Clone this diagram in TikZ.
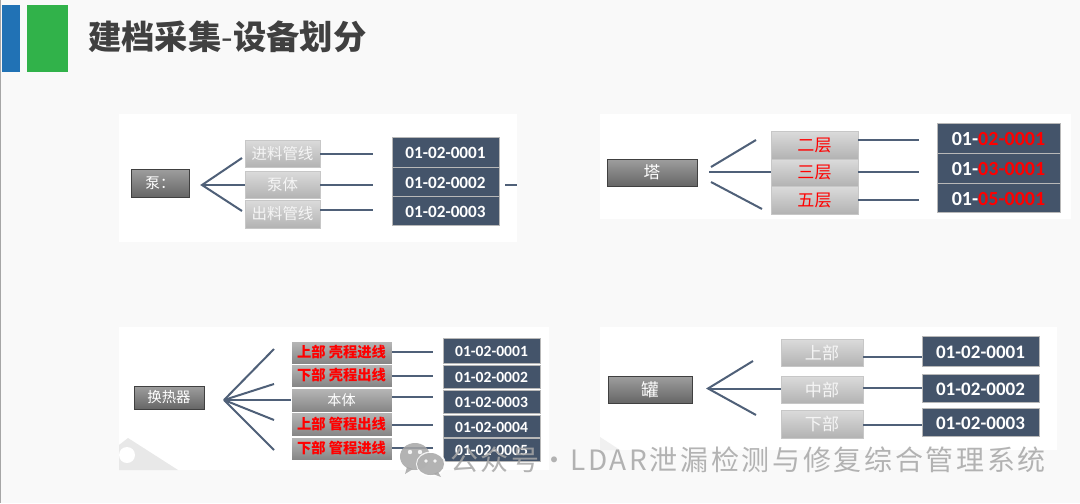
\documentclass[tikz,border=0pt]{standalone}
\usepackage{fontspec}
\setmainfont{Noto Sans CJK SC}
\newfontfamily\numfont{Carlito}
\usetikzlibrary{calc}
\definecolor{pagebg}{HTML}{F9F9F9}
\definecolor{bluebar}{HTML}{2172B5}
\definecolor{greenbar}{HTML}{31B24A}
\definecolor{titlec}{HTML}{404040}
\definecolor{slate}{HTML}{44546A}
\definecolor{conn}{HTML}{4F6078}
\definecolor{wm}{HTML}{A6A6A6}
\tikzset{
  x=0.75pt,y=-0.75pt,
  base/.style={anchor=north west,inner sep=0pt,outer sep=0pt,align=center},
  rootbox/.style={base,draw=black!75,line width=0.7pt,top color=black!38,bottom color=black!60,text=white},
  partbox/.style={base,draw=black!22,line width=0.7pt,top color=black!14,bottom color=black!30,text=black!4},
  darkpart/.style={base,draw=white,line width=0.7pt,top color=black!28,bottom color=black!48,text=red,font=\bfseries\fontsize{10.7pt}{12pt}\selectfont},
  codebox/.style={base,fill=slate,draw=black!28!white,line width=0.6pt,text=white},
  link/.style={draw=conn,line width=1.5pt},
  panel/.style={fill=white,draw=none},
}
% style, name, x1, y1, x2, y2, text
\newcommand\bx[7]{\node[#1,minimum width={(#5-#3)*0.75pt},minimum height={(#6-#4)*0.75pt}] (#2) at (#3,#4) {#7};}
\newcommand\codefont[1]{\numfont\bfseries\fontsize{#1}{#1}\selectfont\raisebox{-0.8pt}[\height][\depth]}
\newcommand\cjkfont[1]{\fontsize{#1}{#1}\selectfont}
\newcommand\rd[1]{\textcolor{red}{#1}}
\begin{document}
\begin{tikzpicture}
\useasboundingbox (0,0) rectangle (1080,503);
\fill[pagebg] (0,0) rectangle (1080,503);
\fill[black!35] (0,0) rectangle (1,503);
\fill[bluebar] (2,5) rectangle (20,72);
\fill[greenbar] (27,5) rectangle (68,72);
\node[anchor=west,inner sep=0pt,text=titlec,font=\bfseries\fontsize{25pt}{27pt}\selectfont] (title) at (88,37) {建档采集{\mdseries -}设备划分};

% panels
\fill[panel] (119,114) rectangle (517,242);
\fill[panel] (600,114) rectangle (1071,219);
\fill[panel] (119,327) rectangle (549,470);
\fill[panel] (600,327) rectangle (1057,450);
\fill[black!9] (119,445) -- (128,438) -- (178,470) -- (119,470) -- cycle;
\fill[white] (127,455) circle (8);
\fill[black!6] (600,437) -- (620,450) -- (600,450) -- cycle;

% ---------- pump
\bx{rootbox}{a0}{131}{169}{189}{197}{\cjkfont{11pt}泵：}
\bx{partbox}{a1}{245}{140}{320}{167}{\cjkfont{11.6pt}进料管线}
\bx{partbox}{a2}{245}{171}{320}{198}{\cjkfont{11.6pt}泵体}
\bx{partbox}{a3}{245}{200}{320}{228}{\cjkfont{11.6pt}出料管线}
\bx{codebox}{ac1}{392}{137}{499}{167}{\codefont{12.9pt}{01-02-0001}}
\bx{codebox}{ac2}{392}{167}{499}{196}{\codefont{12.9pt}{01-02-0002}}
\bx{codebox}{ac3}{392}{196}{499}{225}{\codefont{12.9pt}{01-02-0003}}
\coordinate (aa) at (202,185);
\coordinate (at1) at (242,158);
\coordinate (at3) at (242,211);
\coordinate (ae1) at (373,154);
\coordinate (ae2) at (373,185);
\coordinate (ae3) at (373,210);
\coordinate (as1) at (505,185);
\coordinate (as2) at (517,185);
\draw[link] (at1) -- (aa) -- (at3);
\draw[link] (aa) -- (aa -| a2.west);
\draw[link] (ae1 -| a1.east) -- (ae1);
\draw[link] (ae2 -| a2.east) -- (ae2);
\draw[link] (ae3 -| a3.east) -- (ae3);
\draw[link] (as1) -- (as2);

% ---------- tower
\bx{rootbox}{b0}{607}{159}{697}{186}{\cjkfont{12.5pt}塔}
\bx{partbox}{b1}{771}{131}{858}{159}{\cjkfont{12.8pt}\rd{二层}}
\bx{partbox}{b2}{771}{159}{858}{186}{\cjkfont{12.8pt}\rd{三层}}
\bx{partbox}{b3}{771}{186}{858}{214}{\cjkfont{12.8pt}\rd{五层}}
\bx{codebox}{bc1}{937}{123}{1060}{153}{\codefont{15pt}{01-\rd{02-0001}}}
\bx{codebox}{bc2}{937}{153}{1060}{183}{\codefont{15pt}{01-\rd{03-0001}}}
\bx{codebox}{bc3}{937}{183}{1060}{212}{\codefont{15pt}{01-\rd{05-0001}}}
\coordinate (bs1) at (711,167);
\coordinate (bt1) at (756,140);
\coordinate (bs2) at (709,172);
\coordinate (bs3) at (711,182);
\coordinate (bt3) at (762,209);
\coordinate (be1) at (919,140);
\coordinate (be2) at (919,172);
\coordinate (be3) at (919,200);
\draw[link] (bs1) -- (bt1);
\draw[link] (bs2) -- (bs2 -| b2.west);
\draw[link] (bs3) -- (bt3);
\draw[link] (be1 -| b1.east) -- (be1);
\draw[link] (be2 -| b2.east) -- (be2);
\draw[link] (be3 -| b3.east) -- (be3);

% ---------- exchanger
\bx{rootbox}{c0}{134}{386}{204}{409}{\cjkfont{10.8pt}换热器}
\bx{darkpart}{c1}{291}{341}{392}{364}{上部 壳程进线}
\bx{darkpart}{c2}{291}{364}{392}{387}{下部 壳程出线}
\bx{darkpart}{c3}{291}{388}{392}{412}{\textcolor{white}{\mdseries\cjkfont{10.6pt}本体}}
\bx{darkpart}{c4}{291}{412}{392}{436}{上部 管程出线}
\bx{darkpart}{c5}{291}{437}{392}{460}{下部 管程进线}
\bx{codebox}{cc1}{443}{338}{540}{363}{\codefont{11.7pt}{01-02-0001}}
\bx{codebox}{cc2}{443}{365}{540}{388}{\codefont{11.7pt}{01-02-0002}}
\bx{codebox}{cc3}{443}{390}{540}{413}{\codefont{11.7pt}{01-02-0003}}
\bx{codebox}{cc4}{443}{415}{540}{437}{\codefont{11.7pt}{01-02-0004}}
\bx{codebox}{cc5}{443}{438}{540}{461}{\codefont{11.7pt}{01-02-0005}}
\coordinate (ca) at (224,400);
\coordinate (ct1) at (274,349);
\coordinate (ct2) at (274,384);
\coordinate (ct4) at (274,420);
\coordinate (ct5) at (274,450);
\coordinate (ce1) at (433,352);
\coordinate (ce2) at (433,376);
\coordinate (ce3) at (433,397);
\coordinate (ce4) at (433,425);
\coordinate (ce5) at (433,448);
\draw[link] (ca) -- (ct1);
\draw[link] (ca) -- (ct2);
\draw[link] (ca) -- (ca -| c3.west);
\draw[link] (ca) -- (ct4);
\draw[link] (ca) -- (ct5);
\draw[link] (ce1 -| c1.east) -- (ce1);
\draw[link] (ce2 -| c2.east) -- (ce2);
\draw[link] (ce3 -| c3.east) -- (ce3);
\draw[link] (ce4 -| c4.east) -- (ce4);
\draw[link] (ce5 -| c5.east) -- (ce5);

% ---------- tank
\bx{rootbox}{d0}{608}{376}{692}{403}{\cjkfont{13.2pt}罐}
\bx{partbox}{d1}{781}{339}{863}{366}{\cjkfont{12.8pt}上部}
\bx{partbox}{d2}{781}{376}{863}{403}{\cjkfont{12.8pt}中部}
\bx{partbox}{d3}{781}{410}{863}{438}{\cjkfont{12.8pt}下部}
\bx{codebox}{dc1}{922}{336}{1039}{366}{\codefont{14.3pt}{01-02-0001}}
\bx{codebox}{dc2}{922}{374}{1039}{402}{\codefont{14.3pt}{01-02-0002}}
\bx{codebox}{dc3}{922}{408}{1039}{436}{\codefont{14.3pt}{01-02-0003}}
\coordinate (da) at (708,388.5);
\coordinate (dt1) at (753,361);
\coordinate (dt3) at (756,415);
\draw[link] (dt1) -- (da) -- (dt3);
\draw[link] (da) -- (da -| d2.west);
\coordinate (dy1) at (900,357);
\coordinate (dy2) at (900,388);
\coordinate (dy3) at (900,425);
\draw[link] (dy1 -| d1.east) -- (dy1 -| dc1.west);
\draw[link] (dy2 -| d2.east) -- (dy2 -| dc2.west);
\draw[link] (dy3 -| d3.east) -- (dy3 -| dc3.west);

% ---------- watermark
\begin{scope}[opacity=0.85]
\fill[wm] (415,456.5) ellipse (15 and 13.5);
\fill[wm] (407,467) -- (405,474) -- (413,469) -- cycle;
\fill[white] (431,464) ellipse (15 and 12.5);
\fill[wm] (430.5,464) ellipse (13.5 and 11);
\fill[wm] (438,472) -- (441,477) -- (433,474) -- cycle;
\fill[white] (410,452) circle (2.2);
\fill[white] (420,452) circle (2.2);
\fill[white] (426,461) circle (1.8);
\fill[white] (435,461) circle (1.8);
\node[anchor=east,inner sep=0pt,text=wm,font=\fontsize{21pt}{24pt}\selectfont\addfontfeature{LetterSpace=9.5}] (mark) at (1046,460) {公众号\hspace{1pt}·\hspace{1pt}LDAR泄漏检测与修复综合管理系统};
\end{scope}
\end{tikzpicture}
\end{document}
